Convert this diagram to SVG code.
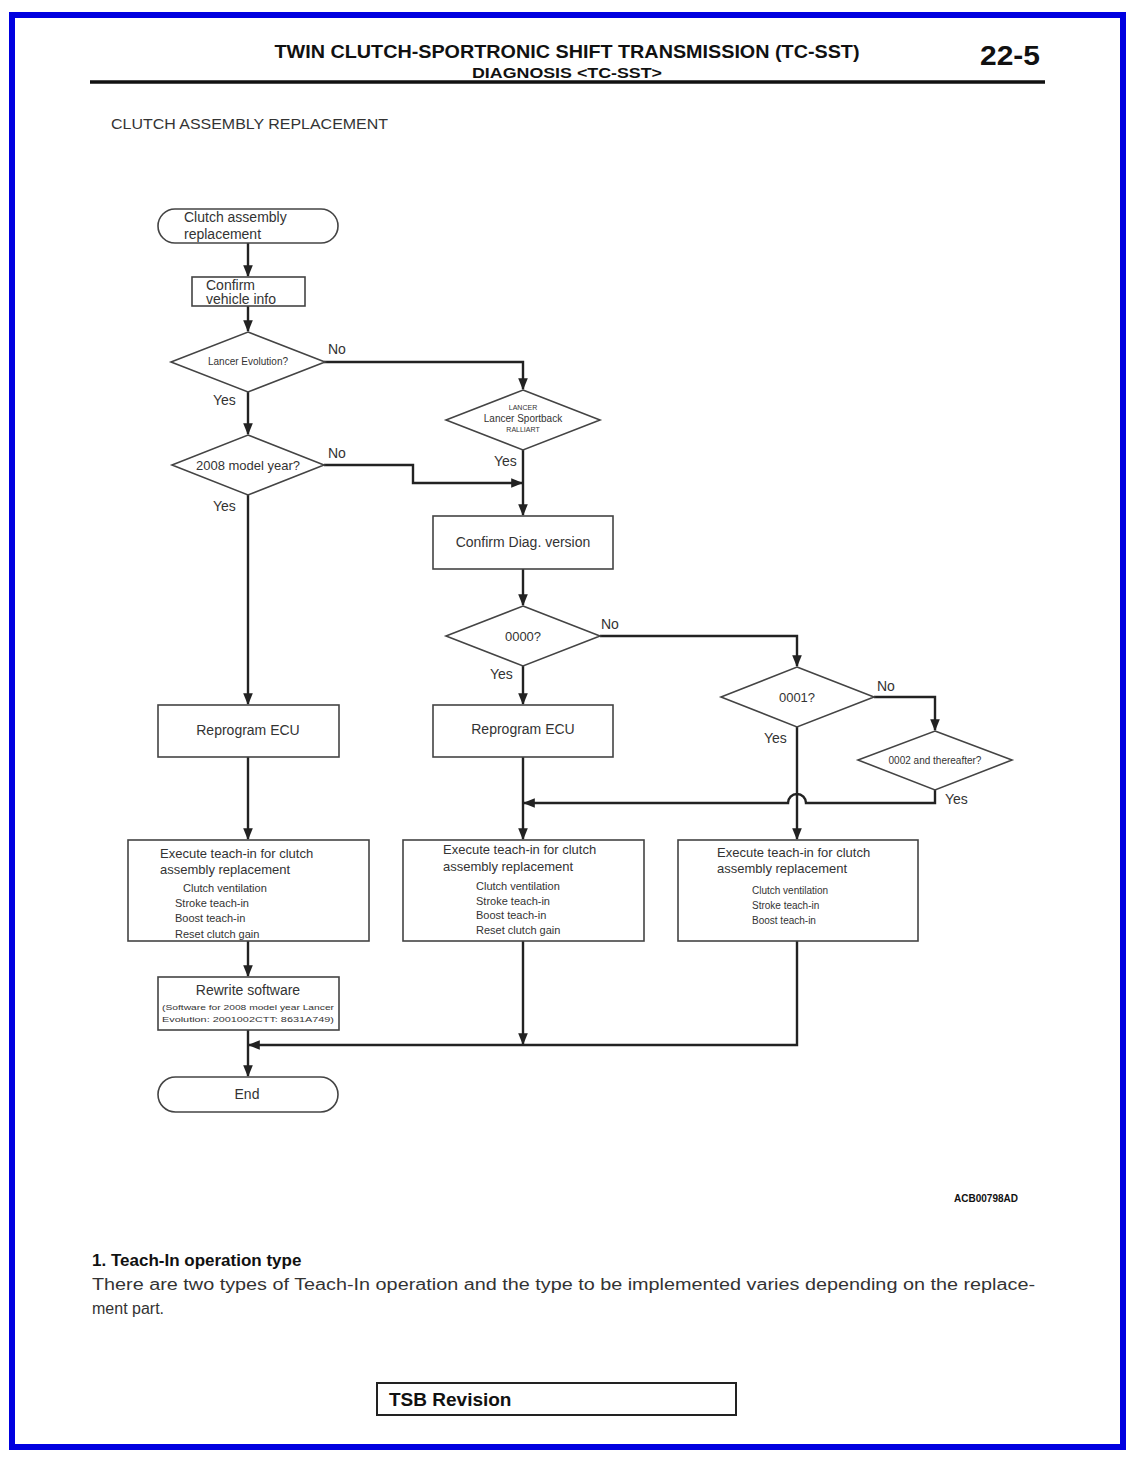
<svg xmlns="http://www.w3.org/2000/svg" width="1137" height="1461" viewBox="0 0 1137 1461">
<style>
.node{fill:#fff;stroke:#444;stroke-width:1.6}
.t{font-family:"Liberation Sans",Arial,sans-serif;fill:#333}
.n14{font-size:14px}
.n13{font-size:13px}
.n11{font-size:11px}
.n10{font-size:10px}
.lbl{font-family:"Liberation Sans",Arial,sans-serif;font-size:14px;fill:#333}
.c{fill:none;stroke:#222;stroke-width:2.4}
.hd{font-family:"Liberation Sans",Arial,sans-serif;font-weight:bold;fill:#111}
</style>
<defs>
<marker id="ah" viewBox="0 0 10 10" refX="9" refY="5" markerWidth="5" markerHeight="5" orient="auto" markerUnits="strokeWidth">
<path d="M0,1 L10,5 L0,9 z" fill="#222"/>
</marker>
</defs>
<rect x="0" y="0" width="1137" height="1461" fill="#fff"/>
<rect x="12" y="15" width="1111" height="1432" fill="none" stroke="#0000e0" stroke-width="6"/>

<g id="header">
<text class="hd" x="567" y="58" font-size="18" text-anchor="middle" textLength="585" lengthAdjust="spacingAndGlyphs">TWIN CLUTCH-SPORTRONIC SHIFT TRANSMISSION (TC-SST)</text>
<text class="hd" x="567" y="78" font-size="14" text-anchor="middle" textLength="190" lengthAdjust="spacingAndGlyphs">DIAGNOSIS &lt;TC-SST&gt;</text>
<text class="hd" x="1040" y="65" font-size="28" text-anchor="end" textLength="60" lengthAdjust="spacingAndGlyphs">22-5</text>
<line x1="90" y1="82" x2="1045" y2="82" stroke="#111" stroke-width="3.5"/>
<text class="t" x="111" y="129" font-size="14" textLength="277" lengthAdjust="spacingAndGlyphs">CLUTCH ASSEMBLY REPLACEMENT</text>
</g>

<g id="connectors">
<line class="c" x1="248" y1="243" x2="248" y2="276" marker-end="url(#ah)"/>
<line class="c" x1="248" y1="306" x2="248" y2="331" marker-end="url(#ah)"/>
<line class="c" x1="248" y1="392" x2="248" y2="434" marker-end="url(#ah)"/>
<polyline class="c" points="324,362 523,362 523,389" marker-end="url(#ah)"/>
<polyline class="c" points="324,465 413,465 413,483 522,483" marker-end="url(#ah)"/>
<line class="c" x1="523" y1="450" x2="523" y2="515" marker-end="url(#ah)"/>
<line class="c" x1="248" y1="495" x2="248" y2="704" marker-end="url(#ah)"/>
<line class="c" x1="523" y1="569" x2="523" y2="605" marker-end="url(#ah)"/>
<polyline class="c" points="600,636 797,636 797,666" marker-end="url(#ah)"/>
<line class="c" x1="523" y1="666" x2="523" y2="704" marker-end="url(#ah)"/>
<polyline class="c" points="874,697 935,697 935,730" marker-end="url(#ah)"/>
<path class="c" d="M935,790 L935,803 L806,803 A9,9 0 0 0 788,803 L524,803" marker-end="url(#ah)"/>
<line class="c" x1="797" y1="727" x2="797" y2="839" marker-end="url(#ah)"/>
<line class="c" x1="248" y1="757" x2="248" y2="839" marker-end="url(#ah)"/>
<line class="c" x1="523" y1="757" x2="523" y2="839" marker-end="url(#ah)"/>
<line class="c" x1="248" y1="941" x2="248" y2="976" marker-end="url(#ah)"/>
<line class="c" x1="523" y1="941" x2="523" y2="1044" marker-end="url(#ah)"/>
<polyline class="c" points="797,941 797,1045 249,1045" marker-end="url(#ah)"/>
<line class="c" x1="248" y1="1030" x2="248" y2="1076" marker-end="url(#ah)"/>
<text class="lbl" x="328" y="354">No</text>
<text class="lbl" x="213" y="405">Yes</text>
<text class="lbl" x="328" y="458">No</text>
<text class="lbl" x="213" y="511">Yes</text>
<text class="lbl" x="494" y="466">Yes</text>
<text class="lbl" x="601" y="629">No</text>
<text class="lbl" x="490" y="679">Yes</text>
<text class="lbl" x="877" y="691">No</text>
<text class="lbl" x="764" y="743">Yes</text>
<text class="lbl" x="945" y="804">Yes</text>
</g>

<g id="start">
<rect class="node" x="158" y="209" width="180" height="34" rx="17"/>
<text class="t n14" x="184" y="222">Clutch assembly</text>
<text class="t n14" x="184" y="239">replacement</text>
</g>
<g id="confirm-vehicle">
<rect class="node" x="192" y="277" width="113" height="29"/>
<text class="t n14" x="206" y="290">Confirm</text>
<text class="t n14" x="206" y="304">vehicle info</text>
</g>
<g id="lancer-evo">
<polygon class="node" points="248,332 325,362 248,392 171,362"/>
<text class="t n10" x="248" y="365" text-anchor="middle">Lancer Evolution?</text>
</g>
<g id="model-2008">
<polygon class="node" points="248,435 324,465 248,495 172,465"/>
<text class="t n13" x="248" y="470" text-anchor="middle">2008 model year?</text>
</g>
<g id="lancer-sportback">
<polygon class="node" points="523,390 600,420 523,450 446,420"/>
<text class="t" font-size="7" x="523" y="410" text-anchor="middle" fill="#777">LANCER</text>
<text class="t" font-size="10" x="523" y="422" text-anchor="middle" fill="#777">Lancer Sportback</text>
<text class="t" font-size="7" x="523" y="432" text-anchor="middle" fill="#777">RALLIART</text>
</g>
<g id="confirm-diag">
<rect class="node" x="433" y="516" width="180" height="53"/>
<text class="t n14" x="523" y="547" text-anchor="middle">Confirm Diag. version</text>
</g>
<g id="d0000">
<polygon class="node" points="523,606 600,636 523,666 446,636"/>
<text class="t n13" x="523" y="641" text-anchor="middle">0000?</text>
</g>
<g id="d0001">
<polygon class="node" points="797,667 874,697 797,727 721,697"/>
<text class="t n13" x="797" y="702" text-anchor="middle">0001?</text>
</g>
<g id="d0002">
<polygon class="node" points="935,731 1012,760 935,790 858,760"/>
<text class="t n10" x="935" y="764" text-anchor="middle">0002 and thereafter?</text>
</g>
<g id="reprogram-left">
<rect class="node" x="158" y="705" width="181" height="52"/>
<text class="t n14" x="248" y="735" text-anchor="middle">Reprogram ECU</text>
</g>
<g id="reprogram-mid">
<rect class="node" x="433" y="705" width="180" height="52"/>
<text class="t n14" x="523" y="734" text-anchor="middle">Reprogram ECU</text>
</g>
<g id="teach-left">
<rect class="node" x="128" y="840" width="241" height="101"/>
<text class="t n13" x="160" y="858">Execute teach-in for clutch</text>
<text class="t n13" x="160" y="874">assembly replacement</text>
<text class="t n11" x="183" y="892">Clutch ventilation</text>
<text class="t n11" x="175" y="907">Stroke teach-in</text>
<text class="t n11" x="175" y="922">Boost teach-in</text>
<text class="t n11" x="175" y="938">Reset clutch gain</text>
</g>
<g id="teach-mid">
<rect class="node" x="403" y="840" width="241" height="101"/>
<text class="t n13" x="443" y="854">Execute teach-in for clutch</text>
<text class="t n13" x="443" y="871">assembly replacement</text>
<text class="t n11" x="476" y="890">Clutch ventilation</text>
<text class="t n11" x="476" y="905">Stroke teach-in</text>
<text class="t n11" x="476" y="919">Boost teach-in</text>
<text class="t n11" x="476" y="934">Reset clutch gain</text>
</g>
<g id="teach-right">
<rect class="node" x="678" y="840" width="240" height="101"/>
<text class="t n13" x="717" y="857">Execute teach-in for clutch</text>
<text class="t n13" x="717" y="873">assembly replacement</text>
<text class="t" font-size="10" x="752" y="894">Clutch ventilation</text>
<text class="t" font-size="10" x="752" y="909">Stroke teach-in</text>
<text class="t" font-size="10" x="752" y="924">Boost teach-in</text>
</g>
<g id="rewrite">
<rect class="node" x="158" y="977" width="181" height="53"/>
<text class="t n14" x="248" y="995" text-anchor="middle">Rewrite software</text>
<text class="t" font-size="7" x="248" y="1010" text-anchor="middle" fill="#888" textLength="172" lengthAdjust="spacingAndGlyphs">(Software for 2008 model year Lancer</text>
<text class="t" font-size="7" x="248" y="1022" text-anchor="middle" fill="#888" textLength="172" lengthAdjust="spacingAndGlyphs">Evolution: 2001002CTT: 8631A749)</text>
</g>
<g id="end">
<rect class="node" x="158" y="1077" width="180" height="35" rx="17.5"/>
<text class="t n14" x="247" y="1099" text-anchor="middle">End</text>
</g>

<g id="footer">
<text class="hd" x="1018" y="1202" font-size="10" text-anchor="end">ACB00798AD</text>
<text class="hd" x="92" y="1266" font-size="17">1. Teach-In operation type</text>
<text class="t" x="92" y="1290" font-size="16" fill="#111" textLength="943" lengthAdjust="spacingAndGlyphs">There are two types of Teach-In operation and the type to be implemented varies depending on the replace-</text>
<text class="t" x="92" y="1314" font-size="16" fill="#111">ment part.</text>
<rect x="377" y="1383" width="359" height="32" fill="#fff" stroke="#222" stroke-width="2"/>
<text class="hd" x="389" y="1406" font-size="19">TSB Revision</text>
</g>
</svg>
